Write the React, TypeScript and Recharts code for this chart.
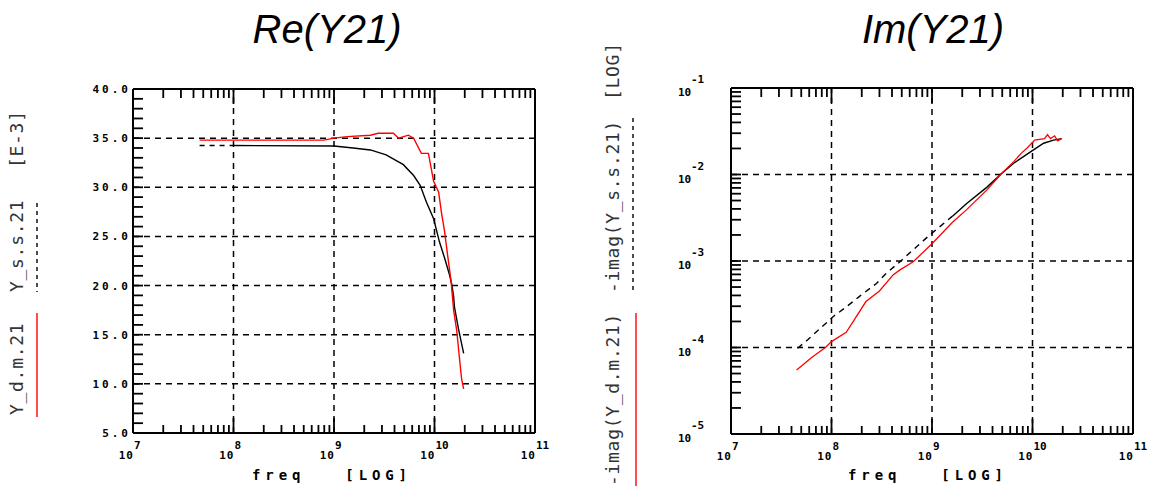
import React from 'react';
import { LineChart, Line, XAxis, YAxis, ReferenceLine } from 'recharts';

// Re(Y21) — red: Y_d.m.21, black: Y_s.s.21  (values in E-3)
const reFreqRed = [4.6e7, 7.9e8, 1e9, 1.35e9, 2.3e9, 2.75e9, 3.9e9, 4.4e9, 5.5e9, 6.2e9, 7.4e9, 8.7e9, 9.8e9, 1.1e10, 1.17e10, 1.26e10, 1.35e10, 1.46e10, 1.55e10, 1.66e10, 1.78e10, 1.86e10, 1.95e10];
const reValRed = [34.8, 34.8, 35.0, 35.15, 35.3, 35.5, 35.5, 35.0, 35.3, 35.0, 33.45, 33.45, 30.6, 29.5, 27.5, 25.5, 23.1, 20.5, 17.5, 15.5, 12.4, 10.5, 9.5];
const reFreqBlack = [4.6e7, 1e8, 1e9, 1.55e9, 2.3e9, 3.3e9, 4.9e9, 6.2e9, 7.2e9, 8.3e9, 9.8e9, 1.12e10, 1.26e10, 1.41e10, 1.48e10, 1.55e10, 1.58e10, 1.74e10, 1.86e10, 1.95e10];
const reValBlack = [34.25, 34.25, 34.2, 34.0, 33.8, 33.3, 32.3, 31.2, 30.2, 28.5, 26.8, 24.45, 22.8, 21.1, 20.2, 18.9, 17.8, 15.5, 14.1, 13.1];

// Im(Y21) — -imag(...)
const imFreqRed = [4.5e7, 6.3e7, 8.7e7, 1.0e8, 1.4e8, 1.6e8, 2.2e8, 3.0e8, 4.1e8, 4.8e8, 6.5e8, 1.0e9, 1.6e9, 2.2e9, 3.5e9, 4.9e9, 6.5e9, 7.8e9, 8.9e9, 1.05e10, 1.32e10, 1.41e10, 1.51e10, 1.66e10, 1.78e10, 1.95e10];
const imValRed = [5.5e-5, 7.6e-5, 1.0e-4, 1.17e-4, 1.5e-4, 1.9e-4, 3.4e-4, 4.5e-4, 6.9e-4, 7.9e-4, 9.8e-4, 1.58e-3, 2.8e-3, 3.9e-3, 6.6e-3, 1.02e-2, 1.41e-2, 1.78e-2, 2.04e-2, 2.5e-2, 2.6e-2, 2.9e-2, 2.6e-2, 2.8e-2, 2.45e-2, 2.6e-2];
const imFreqBlack = [4.6e7, 5.8e7, 1.05e8, 1.38e8, 1.9e8, 2.8e8, 3.5e8, 4.8e8, 6.5e8, 9.5e8, 1.6e9, 2.2e9, 3.5e9, 4.9e9, 6.5e9, 9.8e9, 1.29e10, 1.62e10, 1.95e10];
const imValBlack = [9.8e-5, 1.23e-4, 2.3e-4, 2.9e-4, 3.9e-4, 5.5e-4, 7.2e-4, 9.8e-4, 1.35e-3, 2.0e-3, 3.3e-3, 4.6e-3, 7.1e-3, 1.02e-2, 1.35e-2, 1.86e-2, 2.3e-2, 2.5e-2, 2.6e-2];

// where the black trace stops being drawn dashed
const RE_SPLIT = 1e8;
const IM_SPLIT = 1.6e9;

const freqDecades = [1e8, 1e9, 1e10];
const reGridY = [10, 15, 20, 25, 30, 35];
const imGridY = [1e-4, 1e-3, 1e-2];

const MONO = '"DejaVu Sans Mono", monospace';

const logTicks = (from: number, to: number) => {
  const out: number[] = [];
  for (let d = from; d < to; d++) for (let m = 1; m <= 9; m++) out.push(m * Math.pow(10, d));
  out.push(Math.pow(10, to));
  return out;
};
const xTicks = logTicks(7, 11);
const imYTicks = logTicks(-5, -1);
const reYTicks: number[] = [];
for (let v = 5; v <= 40; v++) reYTicks.push(v);

const isDecade = (v: number) => Math.abs(Math.log10(v) - Math.round(Math.log10(v))) < 1e-6;
const expOf = (v: number) => String(Math.round(Math.log10(v)));

const toPts = (fs: number[], vs: number[]) => fs.map((f, i) => ({ f, v: vs[i] }));
const reRed = toPts(reFreqRed, reValRed);
const reBlack = toPts(reFreqBlack, reValBlack);
const imRed = toPts(imFreqRed, imValRed);
const imBlack = toPts(imFreqBlack, imValBlack);

const tickText = { fontFamily: MONO, fontWeight: 'bold' as const, fontSize: 11, fill: '#000' };
const TICK_W = 1.8;

const BottomTick = (props: any) => {
  const { x, y, payload } = props;
  const major = isDecade(payload.value);
  return (
    <g>
      <line x1={x} x2={x} y1={y} y2={y - (major ? 15 : 8)} stroke="#000" strokeWidth={TICK_W} />
      {major && (
        <>
          <text x={x + 1} y={y + 26} textAnchor="end" letterSpacing={1} {...tickText}>10</text>
          <text x={x + 1} y={y + 16} textAnchor="start" {...tickText}>{expOf(payload.value)}</text>
        </>
      )}
    </g>
  );
};

const TopTick = (props: any) => {
  const { x, y, payload } = props;
  const major = isDecade(payload.value);
  return <line x1={x} x2={x} y1={y} y2={y + (major ? 15 : 9)} stroke="#000" strokeWidth={TICK_W} />;
};

const LinearLeftTick = (props: any) => {
  const { x, y, payload } = props;
  const major = payload.value % 5 === 0;
  return (
    <g>
      <line x1={x} x2={x + 10} y1={y} y2={y} stroke="#000" strokeWidth={TICK_W} />
      {major && (
        <text x={x - 2} y={y + 4} textAnchor="end" letterSpacing={3} {...tickText}>
          {payload.value.toFixed(1)}
        </text>
      )}
    </g>
  );
};

const LogLeftTick = (props: any) => {
  const { x, y, payload } = props;
  const major = isDecade(payload.value);
  return (
    <g>
      <line x1={x} x2={x + 10} y1={y} y2={y} stroke="#000" strokeWidth={TICK_W} />
      {major && (
        <>
          <text x={x - 53} y={y + 8} textAnchor="start" {...tickText}>10</text>
          <text x={x - 40} y={y - 5} textAnchor="start" {...tickText}>{expOf(payload.value)}</text>
        </>
      )}
    </g>
  );
};

const axisLine = { stroke: '#000', strokeWidth: 2 };
const gridProps = { stroke: '#000', strokeDasharray: '6 5', strokeWidth: 1.5 };

const legendText = { fontFamily: MONO, fontSize: 18, letterSpacing: 0.7, fill: '#333' };

const Overlay = () => (
  <svg width={1153} height={488} style={{ position: 'absolute', left: 0, top: 0 }}>
    <text x={327} y={43} textAnchor="middle" fontFamily='"Liberation Sans", Arial, sans-serif' fontStyle="italic" fontSize={40} fill="#000">Re(Y21)</text>
    <text x={933} y={43} textAnchor="middle" fontFamily='"Liberation Sans", Arial, sans-serif' fontStyle="italic" fontSize={40} fill="#000">Im(Y21)</text>

    <text x={23} y={415} transform="rotate(-90 23 415)" {...legendText}>Y_d.m.21</text>
    <line x1={37} x2={37} y1={313} y2={417} stroke="#ff2020" strokeWidth={1.6} />
    <text x={23} y={292} transform="rotate(-90 23 292)" {...legendText}>Y_s.s.21</text>
    <line x1={37} x2={37} y1={203} y2={292} stroke="#000" strokeWidth={1.4} strokeDasharray="4 4" />
    <text x={23} y={168} transform="rotate(-90 23 168)" {...legendText}>[E-3]</text>

    <text x={619} y={486} transform="rotate(-90 619 486)" {...legendText}>-imag(Y_d.m.21)</text>
    <line x1={636} x2={636} y1={313} y2={486} stroke="#ff2020" strokeWidth={1.6} />
    <text x={619} y={293} transform="rotate(-90 619 293)" {...legendText}>-imag(Y_s.s.21)</text>
    <line x1={633} x2={633} y1={118} y2={292} stroke="#000" strokeWidth={1.4} strokeDasharray="4 4" />
    <text x={619} y={100} transform="rotate(-90 619 100)" {...legendText}>[LOG]</text>

    <text x={252} y={480} fontFamily={MONO} fontWeight="bold" fontSize={14} letterSpacing={4.9} fill="#000" style={{ whiteSpace: 'pre' }}>{'freq   [LOG]'}</text>
    <text x={848} y={480} fontFamily={MONO} fontWeight="bold" fontSize={14} letterSpacing={4.9} fill="#000" style={{ whiteSpace: 'pre' }}>{'freq   [LOG]'}</text>
  </svg>
);

const ReChart = () => (
  <div style={{ position: 'absolute', left: 0, top: 0 }}>
    <LineChart width={560} height={488} margin={{ top: 87, right: 23, left: 0, bottom: 0 }}>
      <XAxis dataKey="f" type="number" scale="log" domain={[1e7, 1e11]} ticks={xTicks} interval={0}
        tick={BottomTick} tickLine={false} tickSize={0} tickMargin={0} height={55} axisLine={axisLine} allowDataOverflow />
      <XAxis xAxisId="top" orientation="top" dataKey="f" type="number" scale="log" domain={[1e7, 1e11]} ticks={xTicks} interval={0}
        tick={TopTick} tickLine={false} tickSize={0} tickMargin={0} height={2} axisLine={axisLine} allowDataOverflow />
      <YAxis dataKey="v" type="number" domain={[5, 40]} ticks={reYTicks} interval={0}
        tick={LinearLeftTick} tickLine={false} tickSize={0} tickMargin={0} width={133} axisLine={axisLine} allowDataOverflow />
      <YAxis yAxisId="r" orientation="right" type="number" domain={[5, 40]} tick={false} tickLine={false} width={2} axisLine={axisLine} allowDataOverflow />
      {freqDecades.map((f) => <ReferenceLine key={'x' + f} x={f} {...gridProps} />)}
      {reGridY.map((v) => <ReferenceLine key={'y' + v} y={v} {...gridProps} />)}
      <Line data={reBlack.filter((p) => p.f <= RE_SPLIT)} dataKey="v" stroke="#000" strokeWidth={1.4} strokeDasharray="5 5" dot={false} isAnimationActive={false} />
      <Line data={reBlack.filter((p) => p.f >= RE_SPLIT)} dataKey="v" stroke="#000" strokeWidth={1.4} dot={false} isAnimationActive={false} />
      <Line data={reRed} dataKey="v" stroke="#ff0000" strokeWidth={1.4} dot={false} isAnimationActive={false} />
    </LineChart>
  </div>
);

const ImChart = () => (
  <div style={{ position: 'absolute', left: 600, top: 0 }}>
    <LineChart width={553} height={488} margin={{ top: 86, right: 18, left: 0, bottom: 0 }}>
      <XAxis dataKey="f" type="number" scale="log" domain={[1e7, 1e11]} ticks={xTicks} interval={0}
        tick={BottomTick} tickLine={false} tickSize={0} tickMargin={0} height={54} axisLine={axisLine} allowDataOverflow />
      <XAxis xAxisId="top" orientation="top" dataKey="f" type="number" scale="log" domain={[1e7, 1e11]} ticks={xTicks} interval={0}
        tick={TopTick} tickLine={false} tickSize={0} tickMargin={0} height={2} axisLine={axisLine} allowDataOverflow />
      <YAxis dataKey="v" type="number" scale="log" domain={[1e-5, 1e-1]} ticks={imYTicks} interval={0}
        tick={LogLeftTick} tickLine={false} tickSize={0} tickMargin={0} width={131} axisLine={axisLine} allowDataOverflow />
      <YAxis yAxisId="r" orientation="right" type="number" scale="log" domain={[1e-5, 1e-1]} tick={false} tickLine={false} width={2} axisLine={axisLine} allowDataOverflow />
      {freqDecades.map((f) => <ReferenceLine key={'x' + f} x={f} {...gridProps} />)}
      {imGridY.map((v) => <ReferenceLine key={'y' + v} y={v} {...gridProps} />)}
      <Line data={imBlack.filter((p) => p.f <= IM_SPLIT)} dataKey="v" stroke="#000" strokeWidth={1.4} strokeDasharray="6 5" dot={false} isAnimationActive={false} />
      <Line data={imBlack.filter((p) => p.f >= IM_SPLIT)} dataKey="v" stroke="#000" strokeWidth={1.4} dot={false} isAnimationActive={false} />
      <Line data={imRed} dataKey="v" stroke="#ff0000" strokeWidth={1.3} dot={false} isAnimationActive={false} />
    </LineChart>
  </div>
);

export default function App() {
  return (
    <div style={{ position: 'absolute', left: 0, top: 0, width: 1153, height: 488, background: '#fff' }}>
      <Overlay />
      <ReChart />
      <ImChart />
    </div>
  );
}
